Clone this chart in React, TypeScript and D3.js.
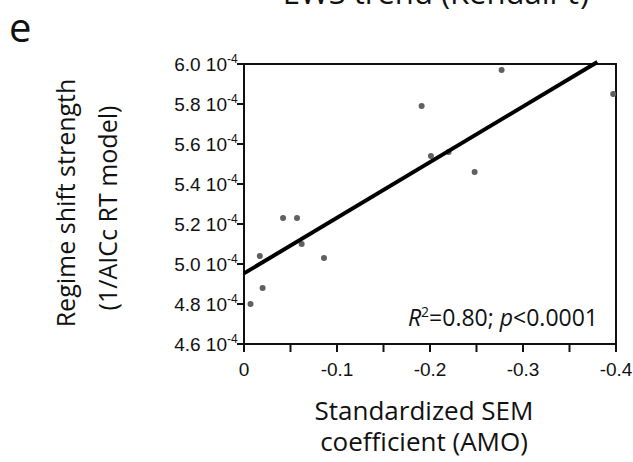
import React from "react";
import * as d3 from "d3";

const amo = [-0.007, -0.017, -0.020, -0.042, -0.057, -0.062, -0.086, -0.191, -0.201, -0.220, -0.248, -0.277, -0.397];
const strength = [4.80, 5.04, 4.88, 5.23, 5.23, 5.10, 5.03, 5.79, 5.54, 5.56, 5.46, 5.97, 5.85];
const fitX = [0, -0.38];
const fitY = [4.953, 6.01];
const xTicks = [0, -0.1, -0.2, -0.3, -0.4];
const xMinorTicks = [-0.05, -0.15, -0.25, -0.35];
const yTicks = [4.6, 4.8, 5.0, 5.2, 5.4, 5.6, 5.8, 6.0];

const W = 633, H = 462;
const left = 244, right = 616, top = 64, bottom = 344;

export default function App() {
  const x = d3.scaleLinear().domain([0, -0.4]).range([left, right]);
  const y = d3.scaleLinear().domain([4.6, 6.0]).range([bottom, top]);
  const line = d3.line<number>().x((_, i) => x(fitX[i])).y((d) => y(d));
  const labelFont = "'Open Sans', sans-serif";
  const tickFont = "'Liberation Sans', Arial, sans-serif";
  return (
    <div style={{ position: "absolute", left: 0, top: 0 }}>
      <svg width={W} height={H} style={{ display: "block", background: "#fff" }}>
        <text x={436} y={4} textAnchor="middle" fontFamily={labelFont} fontSize={31} fill="#111">EWS trend (Kendall τ)</text>
        <text x={9} y={42} fontFamily={labelFont} fontSize={40} fill="#111">e</text>

        {/* frame */}
        <rect x={left} y={top} width={right - left} height={bottom - top} fill="none" stroke="#111" strokeWidth={2} />

        {/* y ticks */}
        {yTicks.map((t) => (
          <g key={"y" + t}>
            <line x1={left - 7} x2={left} y1={y(t)} y2={y(t)} stroke="#111" strokeWidth={2} />
            <text x={left - 17} y={y(t) + 7} textAnchor="end" fontFamily={tickFont} fontSize={19} fill="#111">
              {t.toFixed(1)} 10
            </text>
            <text x={left - 17} y={y(t) - 1} fontFamily={tickFont} fontSize={12} fill="#111">-4</text>
          </g>
        ))}

        {/* x ticks */}
        {xTicks.concat(xMinorTicks).map((t) => (
          <line key={"xt" + t} x1={x(t)} x2={x(t)} y1={bottom} y2={bottom + 8} stroke="#111" strokeWidth={2} />
        ))}
        {xTicks.map((t) => (
          <text key={"xl" + t} x={x(t)} y={376} textAnchor="middle" fontFamily={tickFont} fontSize={19} fill="#111">
            {t === 0 ? "0" : "-" + Math.abs(t).toFixed(1)}
          </text>
        ))}

        {/* points */}
        {amo.map((a, i) => (
          <circle key={"p" + i} cx={x(a)} cy={y(strength[i])} r={3} fill="#606060" />
        ))}

        {/* fit line */}
        <path d={line(fitY) || ""} fill="none" stroke="#000" strokeWidth={4} />

        <text x={598} y={326} textAnchor="end" fontFamily={labelFont} fontSize={23} fill="#111">
          <tspan fontStyle="italic">R</tspan>
          <tspan fontSize={14} dy={-9}>2</tspan>
          <tspan dy={9}>=0.80; </tspan>
          <tspan fontStyle="italic">p</tspan>
          <tspan>&lt;0.0001</tspan>
        </text>

        {/* axis titles */}
        <text x={424} y={420} textAnchor="middle" fontFamily={labelFont} fontSize={26} fill="#111">Standardized SEM</text>
        <text x={424} y={451} textAnchor="middle" fontFamily={labelFont} fontSize={26} fill="#111">coefficient (AMO)</text>
        <text transform={`translate(75,203) rotate(-90)`} textAnchor="middle" fontFamily={labelFont} fontSize={25} fill="#111">Regime shift strength</text>
        <text transform={`translate(117,208) rotate(-90)`} textAnchor="middle" fontFamily={labelFont} fontSize={25} fill="#111">(1/AICc RT model)</text>
      </svg>
    </div>
  );
}
